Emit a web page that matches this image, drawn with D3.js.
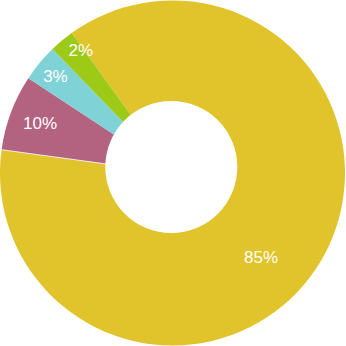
<!DOCTYPE html>
<meta charset="utf-8">
<style>
  body { margin: 0; background: #fff; }
  svg { display: block; }
  text { font-family: "Liberation Sans", Arial, sans-serif; font-size: 17px; fill: #fff; }
</style>
<svg></svg>
<script src="https://cdn.jsdelivr.net/npm/d3@7/dist/d3.min.js"></script>
<script>

// slice shares (degrees / 3.6), with their printed labels
var names  = ["a", "b", "c", "d"],
    shares = [87.1, 7.1, 3.5, 2.3],
    labels = ["85%", "10%", "3%", "2%"],
    colors = ["#e1c32b", "#b3637f", "#7fd2d6", "#9dca17"];

var width = 346,
    height = 346,
    cx = 172.5, cy = 173,
    outer = 172.5,
    hole = {x: 171.3, y: 167, r: 66},
    deg = Math.PI / 180;

// label placement: [angle nudge in degrees, radius]
var labelPos = [[12.5, 122], [0, 141.5], [0, 152], [3.3, 153.5]];

var svg = d3.select("svg").attr("width", width).attr("height", height);

var pie = d3.pie()
    .sort(null)
    .value(d => d.share)
    .startAngle(-35.8 * deg)
    .endAngle((360 - 35.8) * deg);

var data = names.map((n, i) => ({name: n, share: shares[i], label: labels[i], color: colors[i]}));
var arcs = pie(data);

var arc = d3.arc().innerRadius(0).outerRadius(outer);

var g = svg.append("g").attr("transform", "translate(" + cx + "," + cy + ")");

g.selectAll("path.slice")
  .data(arcs)
  .enter().append("path")
    .attr("class", "slice")
    .attr("fill", d => d.data.color)
    .attr("d", arc);

// thin white seam where the big slice ends
var seam = arcs[0].endAngle;
g.append("line")
    .attr("x1", 0).attr("y1", 0)
    .attr("x2", Math.sin(seam) * outer)
    .attr("y2", -Math.cos(seam) * outer)
    .attr("stroke", "#fff")
    .attr("stroke-width", 0.8);

// donut hole
svg.append("circle")
    .attr("cx", hole.x)
    .attr("cy", hole.y)
    .attr("r", hole.r)
    .attr("fill", "#fff");

g.selectAll("text")
  .data(arcs)
  .enter().append("text")
    .attr("text-anchor", "middle")
    .attr("dy", "0.36em")
    .attr("transform", (d, i) => {
      var a = (d.startAngle + d.endAngle) / 2 + labelPos[i][0] * deg,
          r = labelPos[i][1];
      return "translate(" + (Math.sin(a) * r) + "," + (-Math.cos(a) * r) + ")";
    })
    .text(d => d.data.label);

</script>
